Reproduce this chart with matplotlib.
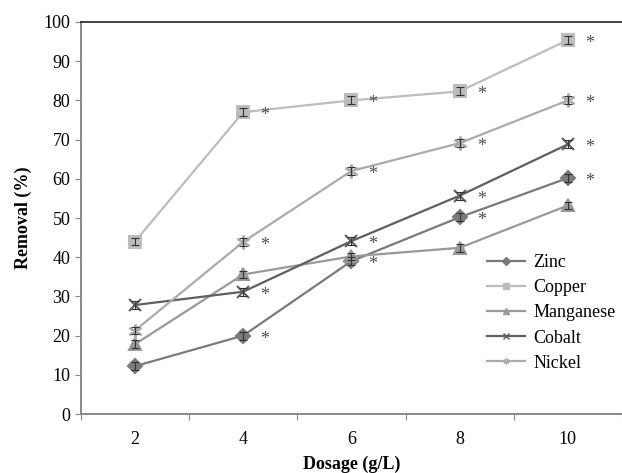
import matplotlib.pyplot as plt
import numpy as np

plt.rcParams['font.family'] = ['Liberation Serif', 'DejaVu Serif']

dosage = ['2', '4', '6', '8', '10']
zinc = [12.2, 20.0, 39.0, 50.2, 60.2]
copper = [44.0, 77.0, 80.0, 82.3, 95.4]
manganese = [17.8, 35.6, 40.2, 42.4, 53.2]
cobalt = [27.8, 31.2, 44.1, 55.7, 68.8]
nickel = [21.3, 43.9, 62.0, 69.1, 80.0]
err = [1.0, 1.0, 1.0, 1.0, 1.0]

# series that carry a significance star at dosage 4..10
starred = [zinc, copper, cobalt, nickel]

fig = plt.figure(figsize=(6.22, 4.73), dpi=100)
ax = fig.add_axes([0.130, 0.1247, 0.87, 0.8288])

x = np.arange(len(dosage))
styles = [
    ('Zinc', zinc, '#7a7a7a', 'D', 7),
    ('Copper', copper, '#bdbdbd', 's', 9),
    ('Manganese', manganese, '#999999', '^', 8),
    ('Cobalt', cobalt, '#5f5f5f', 'x', 8),
    ('Nickel', nickel, '#ababab', (6, 2, 0), 10),
]
handles = []
for name, vals, col, mk, ms in styles:
    ax.errorbar(x, vals, yerr=err, fmt='none', ecolor='#333333',
                elinewidth=0.8, capsize=3, capthick=0.8, zorder=3)
    ax.plot(x, vals, color=col, lw=1.6, marker=mk, ms=ms,
            mec=col, mfc=col, mew=1.5, zorder=2)
    handles.append(ax.plot([], [], color=col, lw=1.6, marker=mk, ms=4.5,
                           mec=col, mfc=col, label=name)[0])

for vals in starred:
    for i in range(1, len(dosage)):
        ax.text(x[i] + 0.2, vals[i] - 0.9, '*', fontsize=13, color='#4d4d4d',
                ha='center', va='center')

ax.set_xlim(-0.5, 4.42)
ax.set_ylim(0, 100)
ax.set_yticks(np.arange(0, 101, 10))
ax.set_xticks(np.arange(-0.5, 4.6, 1.0))
ax.set_xticklabels([])
ax.set_xticks(x, minor=True)
ax.set_xticklabels(dosage, minor=True)
ax.tick_params(axis='x', which='minor', length=0, pad=12, labelsize=13)
ax.tick_params(axis='x', which='major', length=4, direction='out', color='#888888')
ax.tick_params(axis='y', length=4, direction='out', color='#888888', labelsize=13)

for s in ['left', 'bottom']:
    ax.spines[s].set_color('#888888')
    ax.spines[s].set_linewidth(1.4)
ax.spines['top'].set_color('#222222')
ax.spines['top'].set_linewidth(1.2)
ax.spines['right'].set_visible(False)

ax.set_ylabel('Removal (%)', fontsize=13, fontweight='bold', labelpad=8)
ax.set_xlabel('Dosage (g/L)', fontsize=13, fontweight='bold', labelpad=6)

ax.legend(handles=handles, loc='center left', bbox_to_anchor=(0.7375, 0.258),
          borderaxespad=0, frameon=False, fontsize=13, handlelength=2.1,
          labelspacing=0.45, handletextpad=0.45)

fig.savefig('out.png', dpi=100)
